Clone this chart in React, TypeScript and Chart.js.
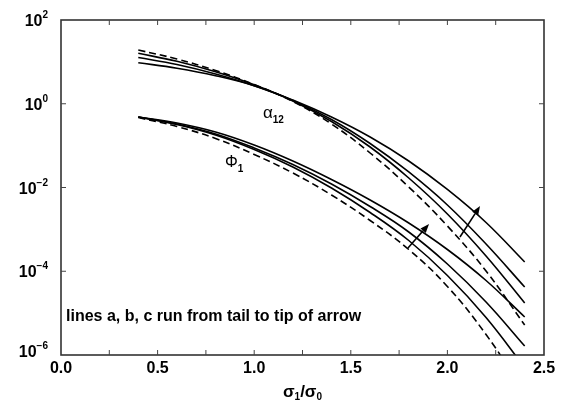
import React, { useEffect, useRef } from "react";
import { Chart, registerables } from "chart.js";

Chart.register(...registerables);

const FONT = '"Liberation Sans", Arial, Helvetica, sans-serif';

// sigma_1 / sigma_0
const xValues = [0.4, 0.6, 0.8, 1.0, 1.2, 1.4, 1.6, 1.8, 2.0, 2.2, 2.4];

// alpha_12 family (a, b, c solid; reference dashed)
const alphaA = [16.03, 10.32, 5.794, 2.836, 1.163, 0.3769, 0.09271, 0.01686, 2.329e-3, 2.312e-4, 1.745e-5];
const alphaB = [12.72, 8.656, 5.134, 2.684, 1.196, 0.4206, 0.1124, 0.02346, 3.821e-3, 4.474e-4, 4.206e-5];
const alphaC = [9.557, 7.063, 4.676, 2.698, 1.229, 0.4828, 0.1607, 0.04293, 8.96e-3, 1.459e-3, 1.663e-4];
const alphaDashed = [19.21, 11.71, 6.223, 2.883, 1.132, 0.3284, 0.06667, 0.01028, 1.204e-3, 1.014e-4, 5.206e-6];

// Phi_1 family
const phiA = [0.4828, 0.3195, 0.1794, 0.0808, 0.03087, 9.729e-3, 2.529e-3, 5.423e-4, 7.912e-5, 7.859e-6, 5.028e-7];
const phiB = [0.4828, 0.3284, 0.1895, 0.08773, 0.03541, 0.01212, 3.518e-3, 8.658e-4, 1.49e-4, 1.843e-5, 1.64e-6];
const phiC = [0.4828, 0.3469, 0.2115, 0.1035, 0.04294, 0.01553, 5.028e-3, 1.42e-3, 3.307e-4, 6.012e-5, 8.078e-6];
const phiDashed = [0.4697, 0.2862, 0.148, 0.0614, 0.0222, 6.619e-3, 1.629e-3, 3.307e-4, 4.323e-5, 3.087e-6, 1.272e-7];

// axis ticks
const xTickValues = [0, 0.5, 1.0, 1.5, 2.0, 2.5];
const xTickLabels = ["0.0", "0.5", "1.0", "1.5", "2.0", "2.5"];
const xMinorTicks = [0.25, 0.75, 1.25, 1.75, 2.25];
const yTickValues = [1e2, 1e0, 1e-2, 1e-4, 1e-6];
const yTickExponents = ["2", "0", "\u22122", "\u22124", "\u22126"];

// arrows in data units
const arrowTails = [
  [1.796, 3.59e-4],
  [2.065, 6.58e-4],
];
const arrowTips = [
  [1.905, 1.34e-3],
  [2.169, 3.61e-3],
];

// annotation anchors (left, baseline) in data units
const alphaLabelPos = [1.045, 0.457];
const phiLabelPos = [0.849, 0.0309];
const noteLabelPos = [0.026, 6.5e-6];
const noteText = "lines a, b, c run from tail to tip of arrow";

type Run = { text: string; size: number; dy?: number; weight?: string };

function drawRuns(
  ctx: CanvasRenderingContext2D,
  runs: Run[],
  x: number,
  y: number,
  align: "left" | "center" | "right"
) {
  let total = 0;
  const widths = runs.map((r) => {
    ctx.font = `${r.weight || "bold"} ${r.size}px ${FONT}`;
    const w = ctx.measureText(r.text).width;
    total += w;
    return w;
  });
  let cx = align === "center" ? x - total / 2 : align === "right" ? x - total : x;
  ctx.textAlign = "left";
  ctx.textBaseline = "alphabetic";
  runs.forEach((r, i) => {
    ctx.font = `${r.weight || "bold"} ${r.size}px ${FONT}`;
    ctx.fillText(r.text, cx, y + (r.dy || 0));
    cx += widths[i];
  });
}

function pts(ys: number[]) {
  return xValues.map((x, i) => ({ x, y: ys[i] }));
}

const decorPlugin = {
  id: "decor",
  afterDatasetsDraw(chart: any) {
    const ctx: CanvasRenderingContext2D = chart.ctx;
    const { left, right, top, bottom } = chart.chartArea;
    const xs = chart.scales.x;
    const ys = chart.scales.y;
    ctx.save();

    // frame
    ctx.strokeStyle = "#333";
    ctx.lineWidth = 1.6;
    ctx.strokeRect(left, top, right - left, bottom - top);

    // inward ticks
    const tl = 5;
    ctx.lineWidth = 1;
    ctx.strokeStyle = "#444";
    ctx.beginPath();
    [...xTickValues, ...xMinorTicks].forEach((v) => {
      const px = xs.getPixelForValue(v);
      if (px <= left + 1 || px >= right - 1) return;
      ctx.moveTo(px, bottom);
      ctx.lineTo(px, bottom - tl);
      ctx.moveTo(px, top);
      ctx.lineTo(px, top + tl);
    });
    yTickValues.forEach((v) => {
      const py = ys.getPixelForValue(v);
      if (py <= top + 1 || py >= bottom - 1) return;
      ctx.moveTo(left, py);
      ctx.lineTo(left + tl, py);
      ctx.moveTo(right, py);
      ctx.lineTo(right - tl, py);
    });
    ctx.stroke();

    ctx.fillStyle = "#000";
    // x tick labels
    xTickValues.forEach((v, i) => {
      const px = xs.getPixelForValue(v);
      drawRuns(ctx, [{ text: xTickLabels[i], size: 16 }], px, bottom + 18, "center");
    });
    // y tick labels
    yTickValues.forEach((v, i) => {
      const py = ys.getPixelForValue(v);
      const off = i === yTickValues.length - 1 ? -4 : 0;
      drawRuns(
        ctx,
        [
          { text: "10", size: 16 },
          { text: yTickExponents[i], size: 10, dy: -8 },
        ],
        left - 13,
        py + 6 + off,
        "right"
      );
    });

    // x axis title
    drawRuns(
      ctx,
      [
        { text: "\u03c3", size: 17 },
        { text: "1", size: 10, dy: 3 },
        { text: "/", size: 17 },
        { text: "\u03c3", size: 17 },
        { text: "0", size: 10, dy: 3 },
      ],
      (left + right) / 2,
      bottom + 42,
      "center"
    );

    // curve labels
    drawRuns(
      ctx,
      [
        { text: "\u03b1", size: 17, weight: "normal" },
        { text: "12", size: 10, dy: 5 },
      ],
      xs.getPixelForValue(alphaLabelPos[0]),
      ys.getPixelForValue(alphaLabelPos[1]),
      "left"
    );
    drawRuns(
      ctx,
      [
        { text: "\u03a6", size: 16, weight: "normal" },
        { text: "1", size: 10, dy: 5 },
      ],
      xs.getPixelForValue(phiLabelPos[0]),
      ys.getPixelForValue(phiLabelPos[1]),
      "left"
    );
    drawRuns(
      ctx,
      [{ text: noteText, size: 16 }],
      xs.getPixelForValue(noteLabelPos[0]),
      ys.getPixelForValue(noteLabelPos[1]),
      "left"
    );

    // arrows
    ctx.strokeStyle = "#000";
    ctx.lineWidth = 1.6;
    arrowTails.forEach((t, i) => {
      const x0 = xs.getPixelForValue(t[0]);
      const y0 = ys.getPixelForValue(t[1]);
      const x1 = xs.getPixelForValue(arrowTips[i][0]);
      const y1 = ys.getPixelForValue(arrowTips[i][1]);
      const ang = Math.atan2(y1 - y0, x1 - x0);
      const hl = 9;
      const hw = 3.5;
      const bx = x1 - hl * Math.cos(ang);
      const by = y1 - hl * Math.sin(ang);
      ctx.beginPath();
      ctx.moveTo(x0, y0);
      ctx.lineTo(bx, by);
      ctx.stroke();
      ctx.beginPath();
      ctx.moveTo(x1, y1);
      ctx.lineTo(bx + hw * Math.sin(ang), by - hw * Math.cos(ang));
      ctx.lineTo(bx - hw * Math.sin(ang), by + hw * Math.cos(ang));
      ctx.closePath();
      ctx.fill();
    });

    ctx.restore();
  },
};

export default function App() {
  const ref = useRef<HTMLCanvasElement | null>(null);

  useEffect(() => {
    document.body.style.margin = "0";
    const canvas = ref.current;
    if (!canvas) return;
    const solid = (data: number[]) => ({
      data: pts(data),
      borderColor: "#000",
      borderWidth: 1.6,
      pointRadius: 0,
      fill: false,
      tension: 0.4,
    });
    const dashed = (data: number[]) => ({
      ...solid(data),
      borderDash: [7, 4],
    });
    const chart = new Chart(canvas, {
      type: "line",
      data: {
        datasets: [
          solid(alphaA),
          solid(alphaB),
          solid(alphaC),
          dashed(alphaDashed),
          solid(phiA),
          solid(phiB),
          solid(phiC),
          dashed(phiDashed),
        ],
      },
      options: {
        responsive: false,
        animation: false,
        events: [],
        layout: { padding: { left: 61, right: 20, top: 20, bottom: 50 } },
        plugins: { legend: { display: false }, tooltip: { enabled: false } },
        scales: {
          x: {
            type: "linear",
            min: 0,
            max: 2.5,
            ticks: { display: false },
            grid: { display: false, drawTicks: false },
            border: { display: false },
            afterFit: (s: any) => {
              s.height = 0;
            },
          },
          y: {
            type: "logarithmic",
            min: 1e-6,
            max: 1e2,
            ticks: { display: false },
            grid: { display: false, drawTicks: false },
            border: { display: false },
            afterFit: (s: any) => {
              s.width = 0;
            },
          },
        },
      },
      plugins: [decorPlugin],
    });
    return () => chart.destroy();
  }, []);

  return (
    <div style={{ width: 564, height: 405, background: "#fff" }}>
      <canvas ref={ref} width={564} height={405} style={{ display: "block" }} />
    </div>
  );
}
